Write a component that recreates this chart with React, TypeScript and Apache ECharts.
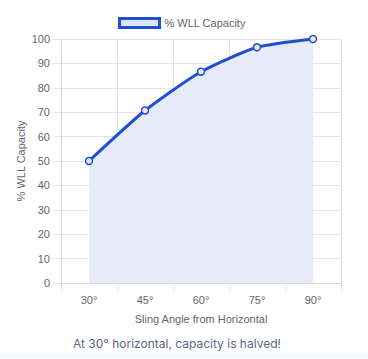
import React, { useEffect, useRef } from "react";
import * as echarts from "echarts";

const categories = ["30°", "45°", "60°", "75°", "90°"];
const capacity = [50, 70.7, 86.6, 96.6, 100];
const seriesName = "% WLL Capacity";
const xTitle = "Sling Angle from Horizontal";
const yTitle = "% WLL Capacity";
const caption = "At 30° horizontal, capacity is halved!";

export default function App() {
  const ref = useRef<HTMLDivElement>(null);
  useEffect(() => {
    document.body.style.margin = "0";
    const chart = echarts.init(ref.current!, null, { renderer: "svg" });
    const blue = "#2150cf";
    const fill = "#e6ebfa";
    const font = "'Liberation Sans', Arial, sans-serif";
    chart.setOption({
      animation: false,
      backgroundColor: "#ffffff",
      textStyle: { fontFamily: font },
      legend: {
        top: 17,
        left: 118,
        padding: 0,
        icon: "rect",
        itemWidth: 40,
        itemHeight: 9,
        itemGap: 8,
        itemStyle: { color: "#dfe6f9", borderColor: blue, borderWidth: 3 },
        textStyle: { fontSize: 11, color: "#666", fontFamily: font },
        data: [seriesName],
      },
      grid: { left: 61, right: 27, top: 39, bottom: 76 },
      xAxis: {
        type: "category",
        data: categories,
        boundaryGap: true,
        name: xTitle,
        nameLocation: "middle",
        nameGap: 30,
        nameMoveOverlap: false,
        nameTextStyle: { fontSize: 11, color: "#666", fontFamily: font },
        axisLine: { show: true, lineStyle: { color: "#d9d9d9", width: 1 } },
        axisTick: { show: true, length: 8, lineStyle: { color: "#e5e5e5" } },
        axisLabel: { fontSize: 11, color: "#666", margin: 11, fontFamily: font },
        splitLine: { show: true, lineStyle: { color: "#e5e5e5", width: 1 } },
      },
      yAxis: {
        type: "value",
        min: 0,
        max: 100,
        interval: 10,
        name: yTitle,
        nameLocation: "middle",
        nameGap: 35,
        nameMoveOverlap: false,
        nameRotate: 90,
        nameTextStyle: { fontSize: 11, color: "#666", fontFamily: font },
        axisLine: { show: true, lineStyle: { color: "#d9d9d9", width: 1 } },
        axisTick: { show: true, length: 8, lineStyle: { color: "#e5e5e5" } },
        axisLabel: { fontSize: 11, color: "#666", margin: 11, fontFamily: font },
        splitLine: { show: true, lineStyle: { color: "#e5e5e5", width: 1 } },
      },
      series: [
        {
          name: seriesName,
          type: "line",
          data: capacity,
          smooth: 0.2,
          symbol: "circle",
          symbolSize: 7,
          lineStyle: { color: blue, width: 3 },
          itemStyle: { color: fill, borderColor: blue, borderWidth: 1.5 },
          areaStyle: { color: fill, opacity: 1 },
        },
      ],
      graphic: [
        {
          type: "rect",
          left: 0,
          top: 353,
          shape: { width: 368, height: 6 },
          style: { fill: "#f7f9fc" },
          silent: true,
        },
        {
          type: "text",
          left: 73,
          top: 337,
          style: {
            text: caption,
            fontSize: 12,
            fill: "#5a6984",
            fontFamily: "Inter, 'Noto Sans', sans-serif",
          },
        },
      ],
    });
    return () => chart.dispose();
  }, []);
  return <div ref={ref} style={{ width: 368, height: 359 }} />;
}
